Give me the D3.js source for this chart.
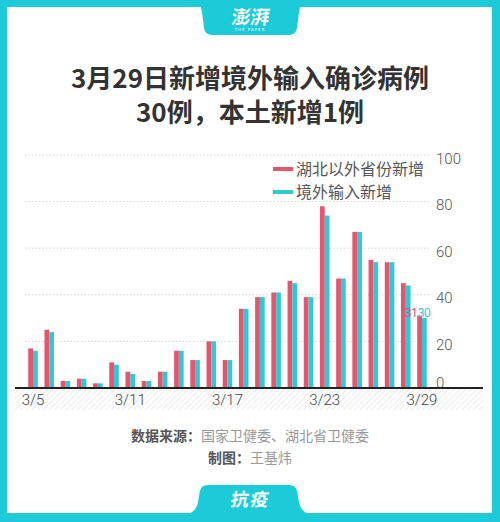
<!DOCTYPE html>
<html>
<head>
<meta charset="utf-8">
<script src="https://d3js.org/d3.v7.min.js"></script>
<style>
  body { margin: 0; background: #fff; }
</style>
</head>
<body>
<div id="chart"></div>
<script>
// data
var dates = ["3/5","3/6","3/7","3/8","3/9","3/10","3/11","3/12","3/13","3/14","3/15","3/16","3/17",
             "3/18","3/19","3/20","3/21","3/22","3/23","3/24","3/25","3/26","3/27","3/28","3/29"];
var outsideHubei = [17,25,3,4,2,11,7,3,7,16,12,20,12,34,39,41,46,39,78,47,67,55,54,45,31];
var imported     = [16,24,3,4,2,10,6,3,7,16,12,20,12,34,39,41,45,39,74,47,67,54,54,44,30];
var seriesNames = ["湖北以外省份新增", "境外输入新增"];
var yTicks = [0, 20, 40, 60, 80, 100];
var xTickLabels = ["3/5", "3/11", "3/17", "3/23", "3/29"];

var W = 500, H = 522;
var frame = "#1ccbd7", red = "#e5566e", cyan = "#33c7d6";
var cjk = "'Noto Sans CJK SC', 'Noto Sans', sans-serif";

var svg = d3.select("#chart")
  .append("svg")
    .attr("width", W)
    .attr("height", H);

// frame
svg.append("rect").attr("width", W).attr("height", H).attr("fill", frame);
svg.append("rect").attr("x", 7).attr("y", 7).attr("width", W - 15).attr("height", H - 16).attr("fill", "#fff");

// top tab with logo
svg.append("path")
  .attr("d", "M196,0 L305,0 C302,2 300,6 299,12 L297,28 Q296,35 289,35 L212,35 Q205,35 204,28 L202,12 C201,6 199,2 196,0 Z")
  .attr("fill", frame);
svg.append("text")
  .attr("x", 250).attr("y", 24)
  .attr("text-anchor", "middle")
  .attr("font-family", cjk).attr("font-weight", "bold")
  .attr("font-size", "19px").attr("fill", "#fff")
  .attr("transform", "skewX(-8) translate(3,0)")
  .text("澎湃");
svg.append("text")
  .attr("x", 250).attr("y", 31)
  .attr("text-anchor", "middle")
  .attr("font-family", "DejaVu Sans").attr("font-size", "4px")
  .attr("letter-spacing", "1px").attr("fill", "#fff")
  .text("THE PAPER");

// bottom tab
svg.append("path")
  .attr("d", "M188,514 C194,512 197,508 198,502 L200,491 Q201,485 208,485 L289,485 Q296,485 297,491 L299,502 C300,508 303,512 309,514 Z")
  .attr("fill", frame);
svg.append("text")
  .attr("x", 250).attr("y", 506)
  .attr("text-anchor", "middle")
  .attr("font-family", cjk).attr("font-weight", "bold")
  .attr("font-size", "18px").attr("fill", "#fff")
  .attr("letter-spacing", "2px")
  .attr("transform", "skewX(-8) translate(71,0)")
  .text("抗疫");

// title
var title = ["3月29日新增境外输入确诊病例", "30例，本土新增1例"];
svg.selectAll(".title")
  .data(title)
  .enter()
  .append("text")
    .attr("class", "title")
    .attr("x", 250)
    .attr("y", function(d, i) { return 88 + i * 34; })
    .attr("text-anchor", "middle")
    .attr("font-family", cjk).attr("font-weight", "bold")
    .attr("font-size", "26px").attr("fill", "#333")
    .text(function(d) { return d; });

// scales
var x = d3.scaleBand()
  .domain(dates)
  .range([25, 430])
  .paddingInner(0.41)
  .paddingOuter(0.2);
var x1 = d3.scaleBand()
  .domain([0, 1])
  .range([0, x.bandwidth()]);
var y = d3.scaleLinear()
  .domain([0, 100])
  .range([388, 155]);

// hatched strip under the axis
var defs = svg.append("defs");
var pat = defs.append("pattern")
  .attr("id", "hatch").attr("patternUnits", "userSpaceOnUse")
  .attr("width", 4).attr("height", 4)
  .attr("patternTransform", "rotate(45)");
pat.append("line").attr("x1", 0).attr("y1", 0).attr("x2", 0).attr("y2", 4)
  .attr("stroke", "#e6e6e6").attr("stroke-width", 1.5);
svg.append("rect")
  .attr("x", 15).attr("y", y(0)).attr("width", 468).attr("height", 22)
  .attr("fill", "url(#hatch)");

// grid
svg.selectAll(".grid")
  .data(yTicks.filter(function(d) { return d > 0; }))
  .enter()
  .append("line")
    .attr("x1", 25).attr("x2", 430)
    .attr("y1", function(d) { return y(d); })
    .attr("y2", function(d) { return y(d); })
    .attr("stroke", "#d4d4d4").attr("stroke-dasharray", "1.5,2");

// y axis on right, labels sit a little below their grid line
var yAxis = svg.append("g")
  .attr("transform", "translate(436,0)")
  .call(d3.axisRight(y).tickValues(yTicks).tickSize(0).tickPadding(0));
yAxis.select(".domain").remove();
yAxis.selectAll("text")
  .attr("font-family", "Roboto, 'Noto Sans', sans-serif")
  .attr("font-weight", 300)
  .attr("font-size", "15px").attr("fill", "#555")
  .attr("dy", function(d) { return d === 0 ? "-0.03em" : "0.54em"; });

// bars
var groups = svg.selectAll(".day")
  .data(dates)
  .enter()
  .append("g")
    .attr("transform", function(d) { return "translate(" + x(d) + ",0)"; });
groups.append("rect")
  .attr("x", x1(0))
  .attr("y", function(d, i) { return y(outsideHubei[i]); })
  .attr("width", x1.bandwidth())
  .attr("height", function(d, i) { return y(0) - y(outsideHubei[i]); })
  .attr("fill", red);
groups.append("rect")
  .attr("x", x1(1))
  .attr("y", function(d, i) { return y(imported[i]); })
  .attr("width", x1.bandwidth())
  .attr("height", function(d, i) { return y(0) - y(imported[i]); })
  .attr("fill", cyan);

// value labels on last day
var last = dates.length - 1;
var lx = x(dates[last]) + x1(0);
svg.append("text")
  .attr("x", lx)
  .attr("y", y(outsideHubei[last]) + 1)
  .attr("text-anchor", "end")
  .attr("font-family", "Roboto, sans-serif").attr("font-size", "12px")
  .attr("letter-spacing", "-0.5px")
  .attr("fill", red)
  .text(outsideHubei[last]);
svg.append("text")
  .attr("x", lx + 0.5)
  .attr("y", y(imported[last]) - 1)
  .attr("text-anchor", "start")
  .attr("font-family", "Roboto, sans-serif").attr("font-size", "12px")
  .attr("letter-spacing", "-0.5px")
  .attr("fill", cyan)
  .text(imported[last]);

// baseline
svg.append("line")
  .attr("x1", 15).attr("x2", 483)
  .attr("y1", y(0)).attr("y2", y(0))
  .attr("stroke", "#222").attr("stroke-width", 2);

// x axis labels
var xAxis = svg.append("g")
  .attr("transform", "translate(0," + y(0) + ")")
  .call(d3.axisBottom(x).tickValues(xTickLabels).tickSize(0).tickPadding(6));
xAxis.select(".domain").remove();
xAxis.selectAll("text")
  .attr("font-family", "Roboto, 'Noto Sans', sans-serif")
  .attr("font-weight", 300)
  .attr("font-size", "15px").attr("fill", "#444");

// legend
var legend = svg.selectAll(".legend")
  .data(seriesNames)
  .enter()
  .append("g")
    .attr("transform", function(d, i) { return "translate(273," + (169 + i * 23) + ")"; });
legend.append("rect")
  .attr("x", 0).attr("y", -2).attr("width", 20).attr("height", 4)
  .attr("fill", function(d, i) { return i === 0 ? red : cyan; });
legend.append("text")
  .attr("x", 23).attr("y", 0).attr("dy", "0.35em")
  .attr("font-family", cjk).attr("font-size", "16px").attr("fill", "#555")
  .text(function(d) { return d; });

// footer
var src = svg.append("text")
  .attr("x", 250).attr("y", 441)
  .attr("text-anchor", "middle")
  .attr("font-family", cjk).attr("font-size", "14px");
src.append("tspan").attr("font-weight", "bold").attr("fill", "#555").text("数据来源：");
src.append("tspan").attr("fill", "#999").text("国家卫健委、湖北省卫健委");
var made = svg.append("text")
  .attr("x", 250).attr("y", 463)
  .attr("text-anchor", "middle")
  .attr("font-family", cjk).attr("font-size", "14px");
made.append("tspan").attr("font-weight", "bold").attr("fill", "#555").text("制图：");
made.append("tspan").attr("fill", "#999").text("王基炜");
</script>
</body>
</html>
